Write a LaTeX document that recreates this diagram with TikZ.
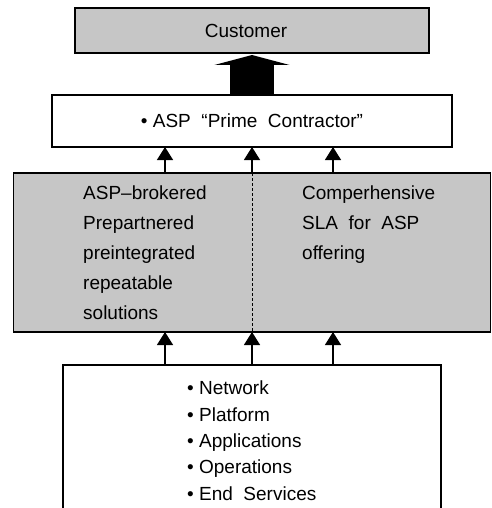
\documentclass[tikz,border=0pt]{standalone}
\usepackage{fontspec}
\setmainfont{Liberation Sans}
\usepackage{tikz}
\usetikzlibrary{arrows.meta,positioning}
\definecolor{shade}{RGB}{198, 198, 198}
\tikzstyle{graybox} = [rectangle, draw=black, line width=1.6pt, fill=shade, text=black, inner sep=0pt, outer sep=0pt, font=\fontsize{19}{30}\selectfont]
\tikzstyle{whitebox} = [rectangle, draw=black, line width=1.6pt, fill=white, text=black, inner sep=0pt, outer sep=0pt, font=\fontsize{19}{30}\selectfont]
\tikzstyle{boxtextonly} = [draw=none, fill=none, align=left, inner sep=0pt, font=\fontsize{19}{30}\selectfont]
\tikzstyle{listtextonly} = [draw=none, fill=none, align=left, inner sep=0pt, font=\fontsize{19}{26.3}\selectfont]
\tikzstyle{tedge}  = [draw, line width=1.3pt, -{Triangle[width=16pt,length=13pt]}]
\tikzstyle{bigedge}  = [draw, line width=44pt, -{Triangle[width=75pt,length=10pt]}, shorten >=2pt]

\begin{document}
\begin{tikzpicture}[auto]
\useasboundingbox (0,0) rectangle (491pt,-508pt);

% boxes =============================

\node[graybox, minimum width=354pt, minimum height=45pt] (customer) at (252pt,-30.5pt) {\hspace*{-12pt}Customer};
\node[whitebox, minimum width=400pt, minimum height=52pt, below=42pt of customer] (prime) {• ASP \ “Prime \ Contractor”};
\node[graybox, minimum width=477pt, minimum height=159pt, below=26pt of prime] (offer) {};
\node[whitebox, minimum width=378pt, minimum height=160pt, below=33pt of offer] (base) {};

% text only
\node[boxtextonly, below right=13pt and 69.5pt of offer.north west] (brokered) {ASP--brokered\\Prepartnered\\preintegrated\\repeatable\\solutions};
\node[boxtextonly, below right=13pt and 50pt of offer.north] (sla) {Comperhensive\\SLA \ for \ ASP\\offering};
\node[listtextonly, below right=16pt and -65pt of base.north] (layers) {• Network\\• Platform\\• Applications\\• Operations\\• End \ Services};

% divider
\draw[line width=0.9pt, dash pattern=on 3pt off 2pt] (offer.north) -- (offer.south);

% edges base to offer
\path[tedge] ([xshift=-87pt]base.north) -- ([xshift=-87pt]offer.south);
\path[tedge] (base.north) -- (offer.south);
\path[tedge] ([xshift=81pt]base.north) -- ([xshift=81pt]offer.south);

% edges offer to prime
\path[tedge] ([xshift=-87pt]offer.north) -- ([xshift=-87pt]prime.south);
\path[tedge] (offer.north) -- (prime.south);
\path[tedge] ([xshift=81pt]offer.north) -- ([xshift=81pt]prime.south);

% prime to customer
\path[bigedge] (prime.north) -- (customer.south);

\end{tikzpicture}
\end{document}
